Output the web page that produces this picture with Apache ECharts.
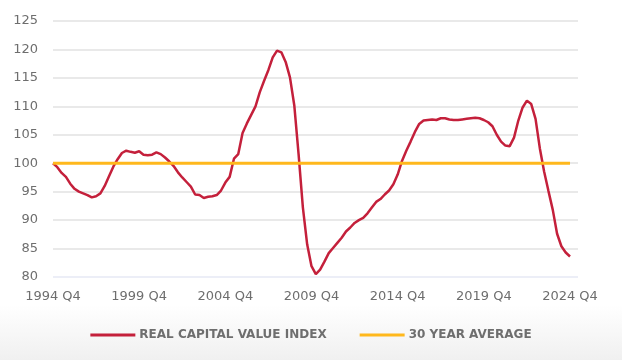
<!DOCTYPE html>
<html>
<head>
<meta charset="utf-8">
<script src="https://cdn.jsdelivr.net/npm/echarts@6/dist/echarts.min.js"></script>
<style>
html,body{margin:0;padding:0;background:#fff;}
#c{width:622px;height:360px;}
</style>
</head>
<body>
<div id="c"></div>
<script>
// Quarters 1994 Q4 .. 2024 Q4
const startYear = 1994;
const tickLabels = ['1994 Q4','1999 Q4','2004 Q4','2009 Q4','2014 Q4','2019 Q4','2024 Q4'];
const indexValues = [
  100.0, 99.3, 98.3, 97.6, 96.4, 95.5, 95.0, 94.7, 94.4, 94.0,
  94.2, 94.7, 96.0, 97.7, 99.4, 100.7, 101.8, 102.2, 102.0, 101.85,
  102.1, 101.5, 101.4, 101.5, 101.9, 101.6, 101.0, 100.3, 99.5, 98.4,
  97.5, 96.7, 95.9, 94.5, 94.4, 93.9, 94.1, 94.2, 94.4, 95.2,
  96.6, 97.6, 100.8, 101.6, 105.3, 107.0, 108.5, 110.0, 112.5, 114.5,
  116.4, 118.6, 119.8, 119.5, 117.8, 115.1, 110.2, 101.6, 92.2, 85.7,
  81.9, 80.5, 81.3, 82.7, 84.2, 85.1, 86.0, 86.9, 88.0, 88.7,
  89.5, 90.0, 90.4, 91.2, 92.2, 93.2, 93.7, 94.5, 95.2, 96.3,
  98.0, 100.4, 102.2, 103.8, 105.5, 106.9, 107.5, 107.6, 107.7, 107.6,
  107.9, 107.9, 107.7, 107.6, 107.6, 107.7, 107.8, 107.9, 108.0, 107.9,
  107.6, 107.2, 106.5, 105.0, 103.8, 103.1, 103.0, 104.5, 107.5, 109.8,
  111.0, 110.4, 107.8, 102.6, 98.5, 95.1, 91.8, 87.6, 85.4, 84.3,
  83.6
];
const averageValue = 100;
const seriesNames = ['REAL CAPITAL VALUE INDEX', '30 YEAR AVERAGE'];

const quarters = indexValues.map((v, i) => {
  const y = startYear + Math.floor((i + 3) / 4);
  const q = ((i + 3) % 4) + 1;
  return y + ' Q' + q;
});

const indexData = indexValues.map((v, i) => [i, v]);
const avgData = indexValues.map((v, i) => [i, averageValue]);
const lastIdx = indexValues.length - 1;

const chart = echarts.init(document.getElementById('c'), null, {renderer: 'canvas'});
const labelFont = '"DejaVu Sans", sans-serif';
chart.setOption({
  backgroundColor: '#ffffff',
  animation: false,
  graphic: [{
    type: 'rect', silent: true, z: -10,
    shape: {x: 0, y: 305, width: 622, height: 55},
    style: {
      fill: new echarts.graphic.LinearGradient(0, 0, 0, 1, [
        {offset: 0, color: 'rgba(255,255,255,1)'},
        {offset: 1, color: 'rgba(240,240,240,1)'}
      ])
    }
  }],
  grid: {left: 53, right: 44, top: 21, bottom: 83, containLabel: false},
  legend: {
    bottom: 14,
    left: 'center',
    itemWidth: 45,
    itemHeight: 3,
    itemGap: 33,
    icon: 'rect',
    textStyle: {color: '#6e6e6e', fontSize: 12, fontWeight: 'bold', fontFamily: labelFont, padding: [0,0,0,-1]},
    data: seriesNames
  },
  xAxis: {
    type: 'value',
    min: 0,
    max: lastIdx * 526 / 518,
    interval: 20,
    axisLine: {show: false},
    axisTick: {show: false},
    splitLine: {show: false},
    axisLabel: {
      showMaxLabel: false,
      color: '#6e6e6e',
      fontSize: 13,
      fontFamily: labelFont,
      margin: 13,
      formatter: function (v) {
        const k = Math.round(v / 20);
        return (Math.abs(v - k * 20) < 1e-6 && tickLabels[k]) ? tickLabels[k] : '';
      }
    }
  },
  yAxis: {
    type: 'value',
    min: 80,
    max: 125,
    interval: 5,
    axisLine: {show: false},
    axisTick: {show: false},
    axisLabel: {color: '#6e6e6e', fontSize: 13, fontFamily: labelFont, margin: 15},
    splitLine: {lineStyle: {color: ['#e6e9f4', '#e2e2e2', '#e2e2e2', '#e2e2e2', '#e2e2e2', '#e2e2e2', '#e2e2e2', '#e2e2e2', '#e2e2e2', '#e2e2e2'], width: 1.5}}
  },
  series: [
    {
      name: seriesNames[0],
      type: 'line',
      data: indexData,
      showSymbol: false,
      symbol: 'none',
      z: 3,
      lineStyle: {color: '#c4203b', width: 2.5},
      itemStyle: {color: '#c4203b'}
    },
    {
      name: seriesNames[1],
      type: 'line',
      data: avgData,
      showSymbol: false,
      symbol: 'none',
      z: 4,
      lineStyle: {color: '#ffb81c', width: 3},
      itemStyle: {color: '#ffb81c'}
    }
  ]
});
</script>
</body>
</html>
